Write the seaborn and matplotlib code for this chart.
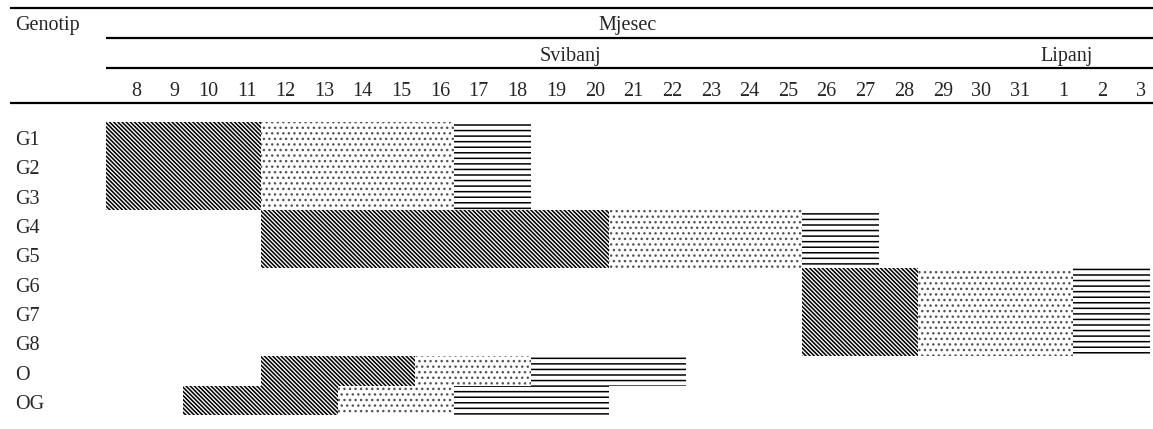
import matplotlib
matplotlib.use("Agg")
import numpy as np
import pandas as pd
import matplotlib.pyplot as plt
import seaborn as sns
from matplotlib.lines import Line2D
from matplotlib import transforms

# ---------------- data ----------------
genotypes = ["G1", "G2", "G3", "G4", "G5", "G6", "G7", "G8", "O", "OG"]
days = list(range(8, 32)) + [1, 2, 3]          # column headers (May 8 .. June 3)
month_names = ["Svibanj", "Lipanj"]
month_first_day = [8, 1]
header_title = "Mjesec"
row_header = "Genotip"

# phase boundaries per genotype (day labels, inclusive)
dark_from = [8, 8, 8, 12, 12, 26, 26, 26, 12, 10]
dotted_from = [12, 12, 12, 21, 21, 29, 29, 29, 16, 14]
striped_from = [17, 17, 17, 26, 26, 2, 2, 2, 19, 17]
striped_to = [18, 18, 18, 27, 27, 3, 3, 3, 22, 20]

# ---------------- style ----------------
sns.set_theme(style="white")
plt.rcParams["font.family"] = ["Liberation Serif", "DejaVu Serif"]
plt.rcParams["font.size"] = 14.5

W, H = 1153, 429
fig = plt.figure(figsize=(W / 100, H / 100), dpi=100)
fig.patch.set_facecolor("white")


def fx(px):
    return px / W


def fy(py):
    return 1 - py / H


ax = fig.add_axes([fx(106), fy(415), fx(1150) - fx(106), fy(122) - fy(415)])
ax.set_facecolor("white")

col = {d: i for i, d in enumerate(days)}
df = pd.DataFrame({
    "genotip": genotypes,
    "start": [col[d] for d in dark_from],
    "dot": [col[d] for d in dotted_from],
    "stripe": [col[d] for d in striped_from],
    "end": [col[d] + 1 for d in striped_to],
})

# layered bars (each drawn from 0, widest first; narrower ones cover the left part)
layers = [
    ("end", "---", "black", 1.1),
    ("stripe", "...", "#555555", 1.0),
    ("dot", "\\" * 8, "black", 1.15),
    ("start", "", "white", 0.0),
]
for colname, hatch, hc, hlw in layers:
    plt.rcParams["hatch.linewidth"] = max(hlw, 0.1)
    n_before = len(ax.patches)
    sns.barplot(data=df, y="genotip", x=colname, order=genotypes, orient="h",
                color="white", saturation=1, edgecolor=hc, linewidth=0,
                hatch=hatch if hatch else None, width=1.0, errorbar=None, ax=ax)
    for p in ax.patches[n_before:]:
        p.set_facecolor("white")
        p.set_edgecolor(hc)
        p.set_linewidth(0)
        if hasattr(p, "set_hatch_linewidth") and hatch:
            p.set_hatch_linewidth(hlw)

ax.set_xlim(0, len(days))
ax.set_ylim(len(genotypes) - 0.5, -0.5)
ax.set_xlabel("")
ax.set_ylabel("")
ax.set_xticks([])
ax.set_yticks([])
for s in ax.spines.values():
    s.set_visible(False)

# ---------------- table header ----------------
lw = 1.6
for (x0, x1, y) in [(10, 1153, 8), (106, 1153, 38), (106, 1153, 68), (10, 1153, 103)]:
    fig.add_artist(Line2D([fx(x0), fx(x1)], [fy(y), fy(y)], transform=fig.transFigure,
                          color="black", lw=lw, solid_capstyle="butt"))

fig.text(fx(15), fy(30), row_header, ha="left", va="baseline")
tx_fig = transforms.blended_transform_factory(ax.transAxes, fig.transFigure)
fig.text(0.5, fy(30), header_title, ha="center", va="baseline", transform=tx_fig)

tx_data = transforms.blended_transform_factory(ax.transData, fig.transFigure)
# month labels
m0 = col[month_first_day[0]]
m1 = col[month_first_day[1]]
fig.text((m0 + m1) / 2, fy(61), month_names[0], ha="center", va="baseline", transform=tx_data)
fig.text(m1 + 0.85, fy(61), month_names[1], ha="center", va="baseline", transform=tx_data)

for d in days:
    fig.text(col[d] + 0.9, fy(96.5), str(d), ha="right", va="baseline", transform=tx_data)

ty = transforms.blended_transform_factory(fig.transFigure, ax.transData)
for i, g in enumerate(genotypes):
    fig.text(fx(15), i + 0.29, g, ha="left", va="baseline", transform=ty)

fig.savefig("out.png", dpi=100, facecolor="white")
